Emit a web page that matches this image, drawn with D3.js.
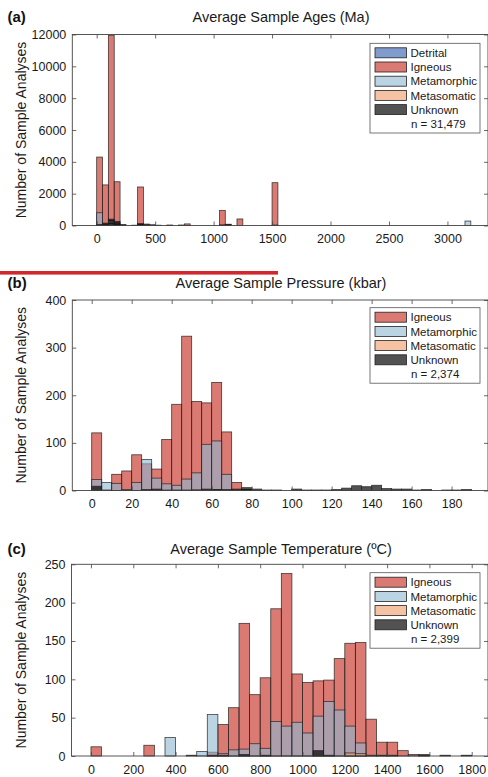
<!DOCTYPE html>
<html>
<head>
<meta charset="utf-8">
<script src="https://cdn.jsdelivr.net/npm/d3@7"></script>
<style>
  body { margin: 0; background: #fff; }
  svg { display: block; font-family: "Liberation Sans", Arial, sans-serif; }
</style>
</head>
<body>
<div id="wrapper"></div>
<script>
// 1. Data (counts, bins are [start, count])
const seriesNames = ["Detrital", "Igneous", "Metamorphic", "Metasomatic", "Unknown"]

// (a) ages, 50 Ma bins
const ageDetrital = [[0, 40], [100, 60], [150, 30]]
const ageIgneous = [
  [0, 4300], [50, 2550], [100, 11950], [150, 2750], [200, 60], [300, 20],
  [350, 2420], [400, 90], [450, 40], [500, 20], [600, 20], [700, 20],
  [750, 100], [1050, 950], [1100, 60], [1200, 410], [1500, 2690]
]
const ageMetamorphic = [[0, 800], [50, 80], [100, 300], [150, 150], [350, 60], [3150, 280]]
const ageMetasomatic = [[100, 120], [150, 60]]
const ageUnknown = [
  [0, 60], [50, 150], [100, 400], [150, 260], [200, 30], [350, 120], [400, 50],
  [450, 30], [600, 20], [700, 20], [1050, 40], [1100, 80], [1500, 30]
]

// (b) pressure, 5 kbar bins starting at 0
const pressureIgneous = [121, 0, 34, 41, 75, 56, 45, 107, 181, 324, 187, 184, 227, 123, 17, 1]
const pressureMetamorphic = [23, 17, 15, 2, 17, 65, 26, 14, 11, 24, 37, 97, 104, 34, 0, 2]
const pressureMetasomatic = [0, 0, 0, 0, 0, 0, 0, 0, 0, 0, 1, 3, 2]
const pressureUnknown = [
  9, 1, 0, 0, 0, 2, 3, 1, 1, 1, 1, 2, 2, 2, 3, 6, 3, 1, 1, 0,
  3, 1, 1, 1, 2, 5, 10, 8, 11, 4, 3, 3, 1, 2, 0, 1, 1, 2
]

// (c) temperature, 50 C bins starting at 0
const tempIgneous = [
  12, 0, 0, 0, 0, 14, 0, 0, 0, 0, 0, 5, 41, 63, 173, 80, 102, 192,
  238, 107, 96, 98, 99, 127, 147, 148, 48, 18, 18, 7, 2, 2
]
const tempMetamorphic = [
  0, 0, 0, 0, 0, 0, 0, 24, 0, 0, 6, 54, 3, 8, 9, 16, 10, 45,
  39, 44, 30, 52, 71, 60, 39, 17
]
const tempMetasomatic = [
  0, 0, 0, 0, 0, 0, 0, 0, 0, 0, 0, 0, 0, 0, 0, 0, 0, 0,
  0, 0, 0, 0, 0, 0, 4, 3, 1
]
const tempUnknown = [
  0, 0, 0, 0, 0, 0, 0, 0, 0, 1, 0, 1, 1, 0, 2, 0, 1, 0,
  0, 0, 0, 7, 1, 0, 0, 0, 0, 1, 1, 0, 0, 1, 0, 1, 0, 1
]

const colors = {
  Detrital: "#2b5aaa",
  Igneous: "#c32114",
  Metamorphic: "#8cb7d2",
  Metasomatic: "#f09967",
  Unknown: "#000000",
}
const alphas = { Detrital: 0.6, Igneous: 0.6, Metamorphic: 0.6, Metasomatic: 0.6, Unknown: 0.68 }

const fromCounts = (counts, width) => counts.map((c, i) => [i * width, c])

const panels = [
  {
    tag: "(a)",
    title: "Average Sample Ages (Ma)",
    binWidth: 50,
    series: [
      ["Detrital", ageDetrital],
      ["Igneous", ageIgneous],
      ["Metamorphic", ageMetamorphic],
      ["Metasomatic", ageMetasomatic],
      ["Unknown", ageUnknown],
    ],
    n: "n = 31,479",
    xDomain: [-208.5, 3347], xRange: [72.3, 488],
    yDomain: [0, 12000], yRange: [225.5, 34.5],
    xTicks: d3.range(0, 3001, 500), yTicks: d3.range(0, 12001, 2000),
    titleY: 21.5, legendTop: 43.3,
  },
  {
    tag: "(b)",
    title: "Average Sample Pressure (kbar)",
    binWidth: 5,
    series: [
      ["Igneous", fromCounts(pressureIgneous, 5)],
      ["Metamorphic", fromCounts(pressureMetamorphic, 5)],
      ["Metasomatic", fromCounts(pressureMetasomatic, 5)],
      ["Unknown", fromCounts(pressureUnknown, 5)],
    ],
    n: "n = 2,374",
    xDomain: [-9.7, 198.2], xRange: [72.3, 488],
    yDomain: [0, 400], yRange: [490.5, 300],
    xTicks: d3.range(0, 181, 20), yTicks: d3.range(0, 401, 100),
    titleY: 288, legendTop: 307.7,
  },
  {
    tag: "(c)",
    title: "Average Sample Temperature (\u00BAC)",
    binWidth: 50,
    series: [
      ["Igneous", fromCounts(tempIgneous, 50)],
      ["Metamorphic", fromCounts(tempMetamorphic, 50)],
      ["Metasomatic", fromCounts(tempMetasomatic, 50)],
      ["Unknown", fromCounts(tempUnknown, 50)],
    ],
    n: "n = 2,399",
    xDomain: [-92, 1877], xRange: [71.5, 488],
    yDomain: [0, 250], yRange: [756, 564.3],
    xTicks: d3.range(0, 1801, 200), yTicks: d3.range(0, 251, 50),
    titleY: 553.5, legendTop: 572.7,
  },
]

// 2. Canvas
const svg = d3.select("#wrapper")
  .append("svg")
  .attr("width", 488)
  .attr("height", 777)

// red rule between (a) and (b)
svg.append("rect")
  .attr("x", 0).attr("y", 271)
  .attr("width", 278).attr("height", 3.6)
  .attr("fill", "#d0282e")

panels.forEach(drawPanel)

function drawPanel(p) {
  const xScale = d3.scaleLinear().domain(p.xDomain).range(p.xRange)
  const yScale = d3.scaleLinear().domain(p.yDomain).range(p.yRange)
  const [x0, x1] = p.xRange
  const [yb, yt] = p.yRange
  const g = svg.append("g")

  // bars, each series overlaid from zero
  p.series.forEach(([name, bins]) => {
    g.append("g")
      .selectAll("rect")
      .data(bins.filter((d) => d[1] > 0))
      .join("rect")
      .attr("x", (d) => xScale(d[0]))
      .attr("width", (d) => xScale(d[0] + p.binWidth) - xScale(d[0]))
      .attr("y", (d) => yScale(d[1]))
      .attr("height", (d) => yScale(0) - yScale(d[1]))
      .attr("fill", colors[name])
      .attr("fill-opacity", alphas[name])
      .attr("stroke", "#222")
      .attr("stroke-opacity", 0.85)
      .attr("stroke-width", 0.8)
  })

  // axes (ticks inside, MATLAB style box)
  const styleAxis = (sel) => {
    sel.select(".domain").remove()
    sel.selectAll(".tick line").attr("stroke", "#444").attr("stroke-width", 0.8)
    sel.selectAll("text").attr("fill", "#1a1a1a").style("font-size", "12.5px")
  }
  g.append("g")
    .attr("transform", `translate(0,${yb})`)
    .call(d3.axisBottom(xScale).tickValues(p.xTicks).tickSize(-4).tickPadding(9).tickFormat(d3.format("d")))
    .call(styleAxis)
  g.append("g")
    .attr("transform", `translate(0,${yt})`)
    .call(d3.axisTop(xScale).tickValues(p.xTicks).tickSize(-4).tickFormat(""))
    .call(styleAxis)
  g.append("g")
    .attr("transform", `translate(${x0},0)`)
    .call(d3.axisLeft(yScale).tickValues(p.yTicks).tickSize(-4).tickPadding(6).tickFormat(d3.format("d")))
    .call(styleAxis)
  g.append("g")
    .attr("transform", `translate(${x1},0)`)
    .call(d3.axisRight(yScale).tickValues(p.yTicks).tickSize(-4).tickFormat(""))
    .call(styleAxis)
  g.append("rect")
    .attr("x", x0).attr("y", yt)
    .attr("width", x1 - x0).attr("height", yb - yt)
    .attr("fill", "none")
    .attr("stroke", "#444")
    .attr("stroke-width", 0.9)

  // title, tag, y label
  g.append("text")
    .text(p.title)
    .attr("x", 281).attr("y", p.titleY)
    .attr("text-anchor", "middle")
    .style("font-size", "14.5px")
    .attr("fill", "#1a1a1a")
  g.append("text")
    .text(p.tag)
    .attr("x", 7.5).attr("y", p.titleY)
    .style("font-size", "15px")
    .style("font-weight", "bold")
    .attr("fill", "#111")
  g.append("text")
    .text("Number of Sample Analyses")
    .attr("transform", `translate(26,${(yb + yt) / 2}) rotate(-90)`)
    .attr("text-anchor", "middle")
    .style("font-size", "14px")
    .attr("fill", "#1a1a1a")

  // legend
  const rowH = 14.2
  const rows = p.series.map((s) => s[0])
  const legend = g.append("g").attr("transform", `translate(370,${p.legendTop})`)
  legend.append("rect")
    .attr("width", 110)
    .attr("height", rowH * (rows.length + 1) + 4.5)
    .attr("fill", "#fff")
    .attr("stroke", "#555")
    .attr("stroke-width", 0.8)
  const items = legend.selectAll("g.item")
    .data(rows)
    .join("g")
    .attr("class", "item")
    .attr("transform", (d, i) => `translate(0,${9.5 + i * rowH})`)
  items.append("rect")
    .attr("x", 5).attr("y", -5)
    .attr("width", 31.5).attr("height", 10)
    .attr("fill", (d) => colors[d])
    .attr("fill-opacity", (d) => alphas[d])
    .attr("stroke", "#222")
    .attr("stroke-width", 0.8)
  items.append("text")
    .text((d) => d)
    .attr("x", 40.5).attr("dy", "0.36em")
    .style("font-size", "11.5px")
    .attr("fill", "#1a1a1a")
  legend.append("text")
    .text(p.n)
    .attr("x", 41).attr("y", 9.5 + rows.length * rowH).attr("dy", "0.36em")
    .style("font-size", "11.5px")
    .attr("fill", "#1a1a1a")
}
</script>
</body>
</html>
